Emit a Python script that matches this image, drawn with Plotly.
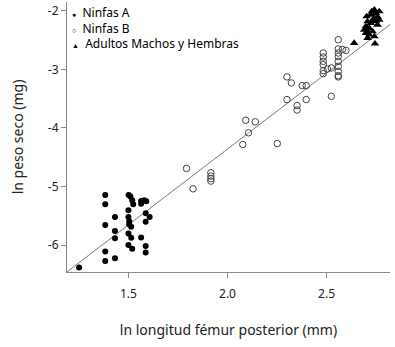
import plotly.graph_objects as go

# Ninfas A (filled circles)
a_x = [1.251, 1.383, 1.383, 1.383, 1.383, 1.383, 1.432, 1.432, 1.432, 1.432,
       1.501, 1.510, 1.519, 1.524, 1.500, 1.500, 1.504, 1.504, 1.514, 1.500,
       1.514, 1.500, 1.519, 1.564, 1.580, 1.590, 1.564, 1.587, 1.607, 1.587,
       1.564, 1.587, 1.587]
a_y = [-6.383, -5.146, -5.305, -5.658, -6.111, -6.271, -5.521, -5.760, -5.884, -6.225,
       -5.146, -5.169, -5.237, -5.305, -5.407, -5.521, -5.595, -5.646, -5.688, -5.804,
       -5.876, -5.998, -6.063, -5.249, -5.237, -5.254, -5.296, -5.458, -5.521, -5.600,
       -5.872, -6.015, -6.128]

# Ninfas B (open circles)
b_x = [1.793, 1.826, 1.916, 1.916, 1.916, 1.916, 2.077, 2.092, 2.106, 2.140,
       2.251, 2.300, 2.322, 2.300, 2.351, 2.351, 2.377, 2.397, 2.397, 2.524,
       2.483, 2.483, 2.483, 2.483, 2.483, 2.483, 2.504, 2.524,
       2.559, 2.559, 2.559, 2.559, 2.559, 2.559, 2.559, 2.559, 2.559, 2.598, 2.580]
b_y = [-4.692, -5.040, -4.765, -4.823, -4.867, -4.908, -4.283, -3.869, -4.083, -3.896,
       -4.266, -3.129, -3.232, -3.516, -3.618, -3.695, -3.278, -3.278, -3.516, -3.460,
       -2.721, -2.789, -2.864, -2.920, -3.022, -3.073, -2.993, -2.976,
       -2.494, -2.652, -2.721, -2.779, -2.864, -2.949, -3.034, -3.107, -3.129, -2.676, -2.660]

# Adultos machos y hembras (filled triangles)
c_x = [2.639, 2.702, 2.707, 2.698, 2.707, 2.715, 2.723, 2.728, 2.741, 2.749,
       2.766, 2.741, 2.749, 2.757, 2.766, 2.723, 2.715, 2.732, 2.741, 2.744,
       2.690, 2.698, 2.707, 2.732, 2.757]
c_y = [-2.550, -2.097, -2.182, -2.267, -2.353, -2.409, -2.068, -2.012, -1.983, -2.039,
       -2.012, -2.124, -2.182, -2.239, -2.153, -2.210, -2.295, -2.353, -2.438, -2.562,
       -2.324, -2.380, -2.465, -2.160, -2.100]

# Regression line
fit_x = [1.19, 2.82]
fit_slope = 2.59
fit_intercept = -9.54
fit_y = [fit_slope * v + fit_intercept for v in fit_x]

x_ticks = [1.5, 2.0, 2.5]
x_ticklabels = ["1.5", "2.0", "2.5"]
y_ticks = [-2, -3, -4, -5, -6]
y_ticklabels = ["-2", "-3", "-4", "-5", "-6"]

legend_labels = ["Ninfas A", "Ninfas B", "Adultos Machos y Hembras"]
legend_symbols = ["\u25CF", "\u25CB", "\u25B2"]

FONT = "Noto Sans"

fig = go.Figure()
fig.add_trace(go.Scatter(x=fit_x, y=fit_y, mode="lines",
                         line=dict(color="#7a7a7a", width=1), hoverinfo="skip"))
fig.add_trace(go.Scatter(x=b_x, y=b_y, mode="markers",
                         marker=dict(symbol="circle-open", size=6.5, color="#444",
                                     line=dict(width=1, color="#444"))))
fig.add_trace(go.Scatter(x=a_x, y=a_y, mode="markers",
                         marker=dict(symbol="circle", size=6, color="black")))
fig.add_trace(go.Scatter(x=c_x, y=c_y, mode="markers",
                         marker=dict(symbol="triangle-up", size=7.5, color="black")))

legend_lines = [
    f"<span style='font-size:7px'>{s}</span>  {lab}"
    for s, lab in zip(legend_symbols, legend_labels)
]
fig.add_annotation(x=0.012, y=0.998, xref="paper", yref="paper",
                   text="<br>".join(legend_lines), showarrow=False,
                   xanchor="left", yanchor="top", align="left", borderpad=0,
                   font=dict(size=12, color="black", family=FONT))

fig.update_layout(
    width=395, height=347,
    margin=dict(l=67, r=5, t=2, b=75),
    paper_bgcolor="white", plot_bgcolor="white",
    showlegend=False,
    font=dict(family=FONT, size=12, color="#222"),
    xaxis=dict(range=[1.19, 2.82], tickvals=x_ticks, ticktext=x_ticklabels,
               showgrid=False, zeroline=False, showline=True, linecolor="#8a8a8a",
               linewidth=1, ticks="outside", ticklen=5, tickcolor="#8a8a8a",
               ticklabelstandoff=6,
               tickfont=dict(size=12, color="#222"),
               title=dict(text="ln longitud fémur posterior (mm)",
                          font=dict(size=14, color="#222"), standoff=23)),
    yaxis=dict(range=[-6.46, -1.85], tickvals=y_ticks, ticktext=y_ticklabels,
               showgrid=False, zeroline=False, showline=True, linecolor="#8a8a8a",
               linewidth=1, ticks="outside", ticklen=5, tickcolor="#8a8a8a",
               tickfont=dict(size=12, color="#222"),
               title=dict(text="ln peso seco (mg)",
                          font=dict(size=14, color="#222"), standoff=20)),
)

fig.write_html("out.html")
